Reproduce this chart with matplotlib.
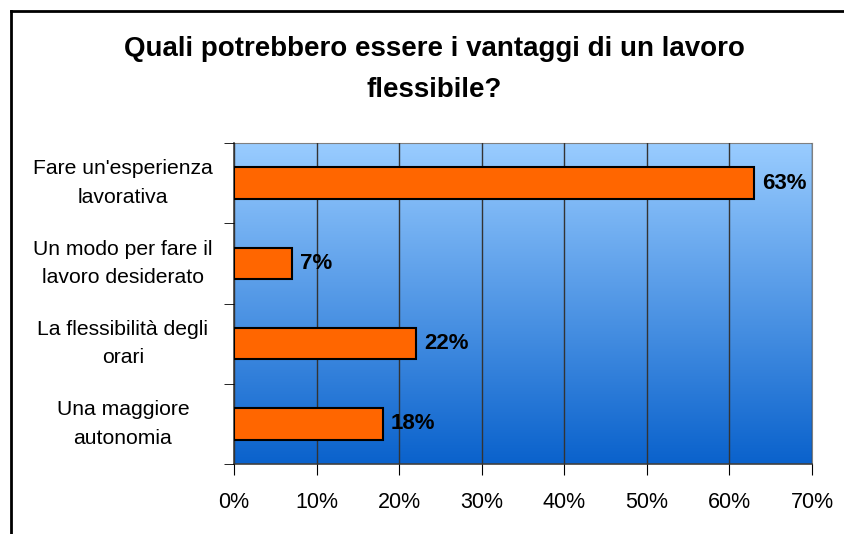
import numpy as np
import matplotlib.pyplot as plt
from matplotlib.colors import LinearSegmentedColormap
from matplotlib.lines import Line2D

categories = ["Fare un'esperienza\nlavorativa",
              "Un modo per fare il\nlavoro desiderato",
              "La flessibilità degli\norari",
              "Una maggiore\nautonomia"]
values = [63, 7, 22, 18]
xticks = [0, 10, 20, 30, 40, 50, 60, 70]

plt.rcParams['font.family'] = ['Liberation Sans', 'DejaVu Sans']

fig = plt.figure(figsize=(8.45, 5.34), dpi=100)
ax = fig.add_axes([234 / 845, 1 - 464 / 534, 578 / 845, 321 / 534])

# blue gradient background
grad = LinearSegmentedColormap.from_list('g', ['#99ccff', '#0a62cc'])
ax.imshow(np.linspace(0, 1, 256).reshape(-1, 1), cmap=grad, aspect='auto',
          extent=[0, 70, 3.5, -0.5], zorder=0)

y = np.arange(len(categories))
ax.barh(y, values, height=0.39, color='#ff6600', edgecolor='black',
        linewidth=1.5, zorder=3)
for yi, v in zip(y, values):
    ax.text(v + 1.0, yi, f'{v}%', va='center', ha='left', fontsize=16,
            fontweight='bold', zorder=4)

ax.set_xlim(0, 70)
ax.set_ylim(3.5, -0.5)
ax.set_xticks(xticks)
ax.set_xticklabels([f'{t}%' for t in xticks], fontsize=15.5)
ax.xaxis.grid(True, color='#333333', linewidth=1)
ax.set_axisbelow(False)
for gl in ax.get_xgridlines():
    gl.set_zorder(1)

ax.set_yticks(y)
ax.set_yticklabels(categories, fontsize=15.2, ha='center', va='center',
                   multialignment='center', linespacing=1.62)
ax.tick_params(axis='y', length=0, pad=80)
ax.set_yticks(np.arange(-0.5, 4, 1), minor=True)
ax.tick_params(axis='y', which='minor', length=7, color='black')
ax.tick_params(axis='x', length=8, pad=12, color='black')

for s in ['top', 'right']:
    ax.spines[s].set_color('#808080')
for s in ['left', 'bottom']:
    ax.spines[s].set_color('#404040')
    ax.spines[s].set_linewidth(1.2)

fig.text(0.514, 1 - 36 / 534,
         'Quali potrebbero essere i vantaggi di un lavoro\nflessibile?',
         ha='center', va='top', fontsize=20, fontweight='bold', linespacing=1.75)

# outer frame
fig.add_artist(Line2D([11 / 845, 11 / 845], [0, 1 - 11 / 534], color='black', lw=2))
fig.add_artist(Line2D([11 / 845, 1], [1 - 11 / 534, 1 - 11 / 534], color='black', lw=2))

fig.savefig('out.png', dpi=100)
